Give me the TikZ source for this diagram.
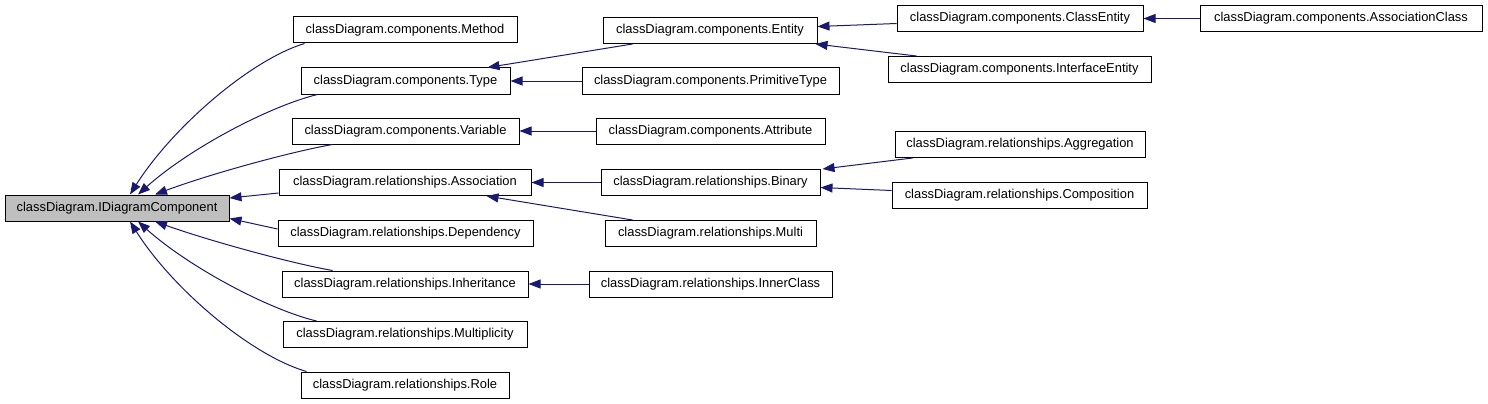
\documentclass[tikz,border=0pt]{standalone}
\usepackage{fontspec}
\setmainfont{Liberation Sans}
\usetikzlibrary{arrows.meta}
\definecolor{edgeblue}{HTML}{191970}
\definecolor{rootgray}{HTML}{BFBFBF}
\begin{document}
\begin{tikzpicture}[x=1pt,y=-1pt,
  cls/.style={draw=black,line width=1pt,fill=white,minimum height=26pt,inner sep=0pt,
    font=\fontsize{12.9}{14}\selectfont},
  rootcls/.style={cls,fill=rootgray},
  edge/.style={draw=edgeblue,line width=1pt,-{Triangle[length=12pt,width=9pt]}}]
\useasboundingbox (0,0) rectangle (1488,404);
% column 1
\node[rootcls,minimum width=224pt] (root) at (117,208) {classDiagram.IDiagramComponent};
% column 2
\node[cls,minimum width=224pt] (meth) at (405,30) {classDiagram.components.Method};
\node[cls,minimum width=209pt] (type) at (405.5,81) {classDiagram.components.Type};
\node[cls,minimum width=227pt] (var) at (405.5,131) {classDiagram.components.Variable};
\node[cls,minimum width=252pt] (assoc) at (405,182.5) {classDiagram.relationships.Association};
\node[cls,minimum width=255pt] (dep) at (405.5,233.5) {classDiagram.relationships.Dependency};
\node[cls,minimum width=246pt] (inh) at (405,284) {classDiagram.relationships.Inheritance};
\node[cls,minimum width=244pt] (mult) at (405,334.5) {classDiagram.relationships.Multiplicity};
\node[cls,minimum width=208pt] (role) at (405,385) {classDiagram.relationships.Role};
% column 3
\node[cls,minimum width=214pt] (ent) at (710,30.5) {classDiagram.components.Entity};
\node[cls,minimum width=257pt] (prim) at (710.5,81) {classDiagram.components.PrimitiveType};
\node[cls,minimum width=229pt] (attr) at (710.5,131) {classDiagram.components.Attribute};
\node[cls,minimum width=219pt] (bin) at (710.5,182.5) {classDiagram.relationships.Binary};
\node[cls,minimum width=211pt] (multi) at (710.5,233.5) {classDiagram.relationships.Multi};
\node[cls,minimum width=243pt] (inner) at (710.5,284) {classDiagram.relationships.InnerClass};
% column 4
\node[cls,minimum width=246pt] (ce) at (1020,18.5) {classDiagram.components.ClassEntity};
\node[cls,minimum width=263pt] (ie) at (1019.5,69.5) {classDiagram.components.InterfaceEntity};
\node[cls,minimum width=250pt] (agg) at (1020,144.5) {classDiagram.relationships.Aggregation};
\node[cls,minimum width=255pt] (comp) at (1019.5,195.5) {classDiagram.relationships.Composition};
% column 5
\node[cls,minimum width=282pt] (ac) at (1341,18.5) {classDiagram.components.AssociationClass};
% edges to root
\draw[edge] ([xshift=12pt]meth.south west) .. controls (250,60) and (172,128) .. ([xshift=13pt]root.north);
\draw[edge] ([xshift=17pt]type.south west) .. controls (270,106) and (190,148) .. ([xshift=21pt]root.north);
\draw[edge] ([xshift=41pt]var.south west) .. controls (290,152) and (210,174) .. ([xshift=38pt]root.north);
\draw[edge] ([yshift=3pt]assoc.south west) -- ([yshift=10pt]root.east);
\draw[edge] ([yshift=-9pt]dep.north west) -- ([yshift=3pt]root.south east);
\draw[edge] ([xshift=51pt]inh.north west) .. controls (290,263) and (210,241) .. ([xshift=38pt]root.south);
\draw[edge] ([xshift=34pt]mult.north west) .. controls (270,310) and (190,268) .. ([xshift=21pt]root.south);
\draw[edge] ([xshift=6pt]role.north west) .. controls (250,355) and (172,288) .. ([xshift=13pt]root.south);
% column 3 -> column 2
\draw[edge] ([xshift=30pt]ent.south west) -- ([xshift=-23pt]type.north east);
\draw[edge] (prim.west) -- (type.east);
\draw[edge] (attr.west) -- (var.east);
\draw[edge] (bin.west) -- (assoc.east);
\draw[edge] ([xshift=28pt]multi.north west) -- ([xshift=-45pt]assoc.south east);
\draw[edge] (inner.west) -- (inh.east);
% column 4 -> column 3
\draw[edge] ([yshift=-5pt]ce.west) -- ([yshift=4pt]ent.east);
\draw[edge] ([xshift=29pt]ie.north west) -- ([xshift=-2pt]ent.south east);
\draw[edge] ([xshift=18pt]agg.south west) -- ([xshift=2pt]bin.north east);
\draw[edge] ([yshift=5pt]comp.west) -- ([yshift=-5pt]bin.east);
% column 5 -> column 4
\draw[edge] (ac.west) -- (ce.east);
\end{tikzpicture}
\end{document}
